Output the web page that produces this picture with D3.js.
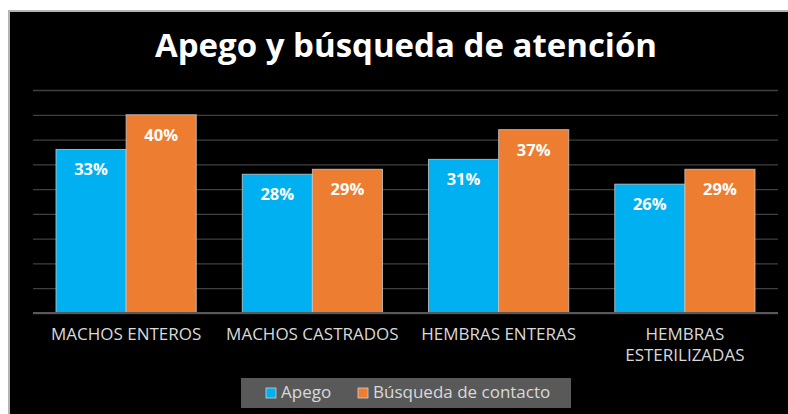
<!DOCTYPE html>
<html>
<head>
<meta charset="utf-8">
<script src="https://cdn.jsdelivr.net/npm/d3@7"></script>
<style>
  body { margin: 0; background: #ffffff; }
</style>
</head>
<body>
<div id="apego_chart"></div>
<script>
var categorias = [["MACHOS ENTEROS"], ["MACHOS CASTRADOS"], ["HEMBRAS ENTERAS"], ["HEMBRAS", "ESTERILIZADAS"]];
var series = ["Apego", "Búsqueda de contacto"];
var apego = [33, 28, 31, 26];
var busqueda = [40, 29, 37, 29];
var yTicks = [0, 5, 10, 15, 20, 25, 30, 35, 40, 45];

drawApego();

function drawApego() {
  var W = 788, H = 414;
  var margin = {top: 90, right: 10, bottom: 101, left: 33},
    width = W - margin.left - margin.right,
    height = H - margin.top - margin.bottom;

  var root = d3.select("#apego_chart")
    .append("svg")
      .attr("width", W)
      .attr("height", H)
      .style("font-family", "'Open Sans', Lato, sans-serif");

  // fondo negro con borde gris
  root.append("rect")
    .attr("x", 9)
    .attr("y", 11)
    .attr("width", W)
    .attr("height", H)
    .attr("fill", "#000")
    .attr("stroke", "#b4b4b4")
    .attr("stroke-width", 2);

  root.append("text")
    .attr("x", 406)
    .attr("y", 57)
    .attr("text-anchor", "middle")
    .style("fill", "#fff")
    .style("font-weight", "bold")
    .style("font-size", "33px")
    .text("Apego y búsqueda de atención");

  var svg = root.append("g")
    .attr("transform", "translate(" + margin.left + "," + margin.top + ")");

  var keys = categorias.map(function (d) { return d.join(" "); });

  var x = d3.scaleBand()
    .range([0, width])
    .domain(keys)
    .paddingInner(0.247)
    .paddingOuter(0.1235);

  var x1 = d3.scaleBand()
    .domain(series)
    .range([0, x.bandwidth()]);

  var y = d3.scaleLinear()
    .domain([0, 45])
    .range([height, 0]);

  var yAxis = d3.axisLeft(y).tickValues(yTicks).tickSize(-width).tickFormat("");
  var gy = svg.append("g").call(yAxis);
  gy.select(".domain").remove();
  gy.selectAll(".tick line")
    .attr("stroke", "#404040")
    .attr("stroke-width", 1.3);

  var color = d3.scaleOrdinal().domain(series).range(["#00b0f0", "#ed7d31"]);

  var rows = [];
  keys.forEach(function (k, i) {
    rows.push({cat: k, serie: series[0], value: apego[i]});
    rows.push({cat: k, serie: series[1], value: busqueda[i]});
  });

  svg.selectAll(".bar")
    .data(rows)
    .enter().append("rect")
      .attr("class", "bar")
      .attr("x", function (d) { return x(d.cat) + x1(d.serie); })
      .attr("y", function (d) { return y(d.value); })
      .attr("width", x1.bandwidth())
      .attr("height", function (d) { return height - y(d.value); })
      .attr("fill", function (d) { return color(d.serie); })
      .attr("stroke", "#c8c8c8")
      .attr("stroke-opacity", 0.8)
      .attr("stroke-width", 1);

  svg.selectAll(".lbl")
    .data(rows)
    .enter().append("text")
      .attr("class", "lbl")
      .attr("x", function (d) { return x(d.cat) + x1(d.serie) + x1.bandwidth() / 2; })
      .attr("y", function (d) { return y(d.value) + 26; })
      .attr("text-anchor", "middle")
      .style("fill", "#fff")
      .style("font-weight", "bold")
      .style("font-size", "16.5px")
      .text(function (d) { return d.value + "%"; });

  // linea base
  svg.append("line")
    .attr("x1", 0)
    .attr("x2", width)
    .attr("y1", y(0))
    .attr("y2", y(0))
    .style("stroke", "#595959")
    .style("stroke-width", 2);

  // etiquetas de categoria
  categorias.forEach(function (lines, i) {
    var t = svg.append("text")
      .attr("x", x(keys[i]) + x.bandwidth() / 2)
      .attr("y", height + 27)
      .attr("text-anchor", "middle")
      .style("fill", "#d9d9d9")
      .style("font-size", "17px");
    lines.forEach(function (l, j) {
      t.append("tspan")
        .attr("x", x(keys[i]) + x.bandwidth() / 2)
        .attr("dy", j == 0 ? 0 : 21)
        .text(l);
    });
  });

  // leyenda
  var leg = root.append("g");
  leg.append("rect")
    .attr("x", 241)
    .attr("y", 378)
    .attr("width", 330)
    .attr("height", 30)
    .attr("fill", "#595959");

  var legX = [266, 358];
  series.forEach(function (s, i) {
    leg.append("rect")
      .attr("x", legX[i])
      .attr("y", 388)
      .attr("width", 10)
      .attr("height", 10)
      .attr("fill", color(s))
      .attr("stroke", "#d0d0d0")
      .attr("stroke-width", 0.8);
    leg.append("text")
      .attr("x", legX[i] + 15)
      .attr("y", 398)
      .style("fill", "#d9d9d9")
      .style("font-size", "17px")
      .text(s);
  });
}
</script>
</body>
</html>
